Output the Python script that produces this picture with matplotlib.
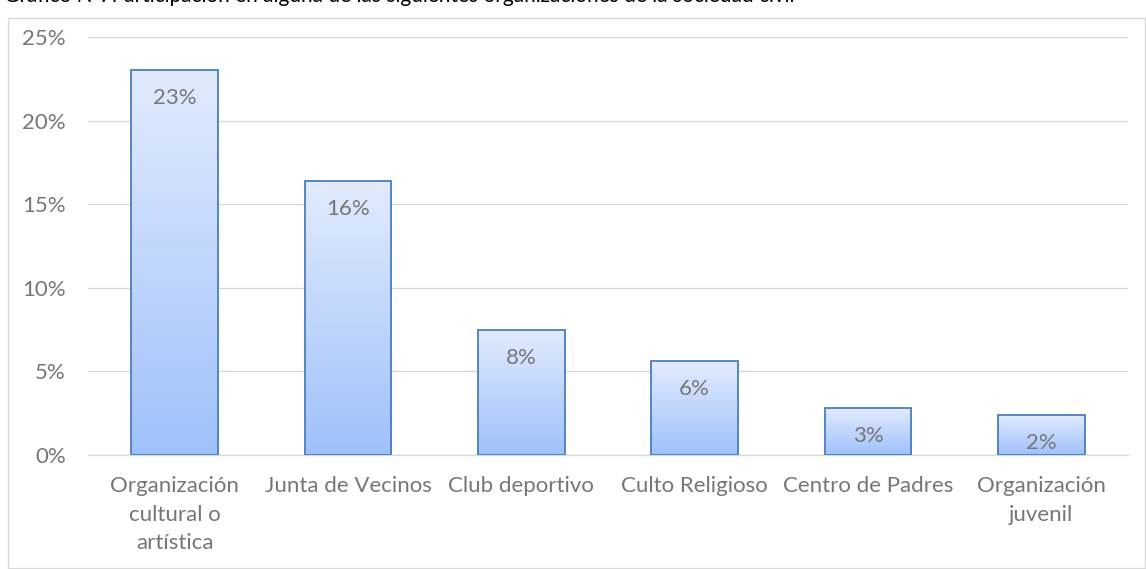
import numpy as np
import matplotlib
matplotlib.use("Agg")
import matplotlib.pyplot as plt
from matplotlib.patches import Rectangle
from matplotlib.colors import LinearSegmentedColormap

categories = ["Organización\ncultural o\nartística", "Junta de Vecinos", "Club deportivo",
              "Culto Religioso", "Centro de Padres", "Organización\njuvenil"]
values = [0.23, 0.164, 0.075, 0.056, 0.028, 0.024]
labels = ["23%", "16%", "8%", "6%", "3%", "2%"]
yticks = [0, 0.05, 0.10, 0.15, 0.20, 0.25]
ytick_labels = ["0%", "5%", "10%", "15%", "20%", "25%"]
title = "Gráfico N°: Participación en alguna de las siguientes organizaciones de la sociedad civil"

plt.rcParams['font.family'] = ['Lato', 'DejaVu Sans']
W, H = 1146, 569
fig = plt.figure(figsize=(W / 100, H / 100), dpi=100)

# outer chart border
fig.patches.append(Rectangle((8 / W, 1 / H), (W - 9) / W, (H - 19) / H, transform=fig.transFigure,
                             fill=False, edgecolor="#d9d9d9", linewidth=1.0))
# title (cut off at top edge as in the reference)
fig.text(4 / W, 1 - 2 / H, title, ha="left", va="baseline", fontsize=15, color="#000000")

ax = fig.add_axes([88 / W, 1 - 455 / H, 1040 / W, 418 / H])
x = np.arange(len(categories))
bars = ax.bar(x, values, width=0.5, color="none", edgecolor="#4a7ebb", linewidth=1.3, zorder=3)

cmap = LinearSegmentedColormap.from_list("g", ["#9fc1fb", "#e2ebfd"])
grad = np.linspace(0, 1, 256).reshape(-1, 1)
for b in bars:
    x0, y0 = b.get_x(), b.get_y()
    w, h = b.get_width(), b.get_height()
    im = ax.imshow(grad, cmap=cmap, origin="lower", aspect="auto",
                   extent=(x0, x0 + w, y0, y0 + h), zorder=2)
    im.set_clip_path(b)

for xi, v, lab in zip(x, values, labels):
    ax.annotate(lab, (xi, v), xytext=(0, -13), textcoords="offset points",
                ha="center", va="top", fontsize=16, color="#767676", zorder=4)

ax.set_xlim(-0.5, len(categories) - 0.5)
ax.set_ylim(0, 0.25)
ax.set_yticks(yticks)
ax.set_yticklabels(ytick_labels)
ax.set_xticks(x)
ax.set_xticklabels(categories, linespacing=1.55)
ax.tick_params(axis="both", length=0, labelsize=16, labelcolor="#767676")
ax.tick_params(axis="y", pad=16)
ax.tick_params(axis="x", pad=15)
ax.grid(axis="y", color="#d9d9d9", linewidth=1.0, zorder=0)
for s in ["top", "right", "left"]:
    ax.spines[s].set_visible(False)
ax.spines["bottom"].set_color("#d9d9d9")
ax.spines["bottom"].set_linewidth(1.0)

fig.savefig("out.png", dpi=100)
